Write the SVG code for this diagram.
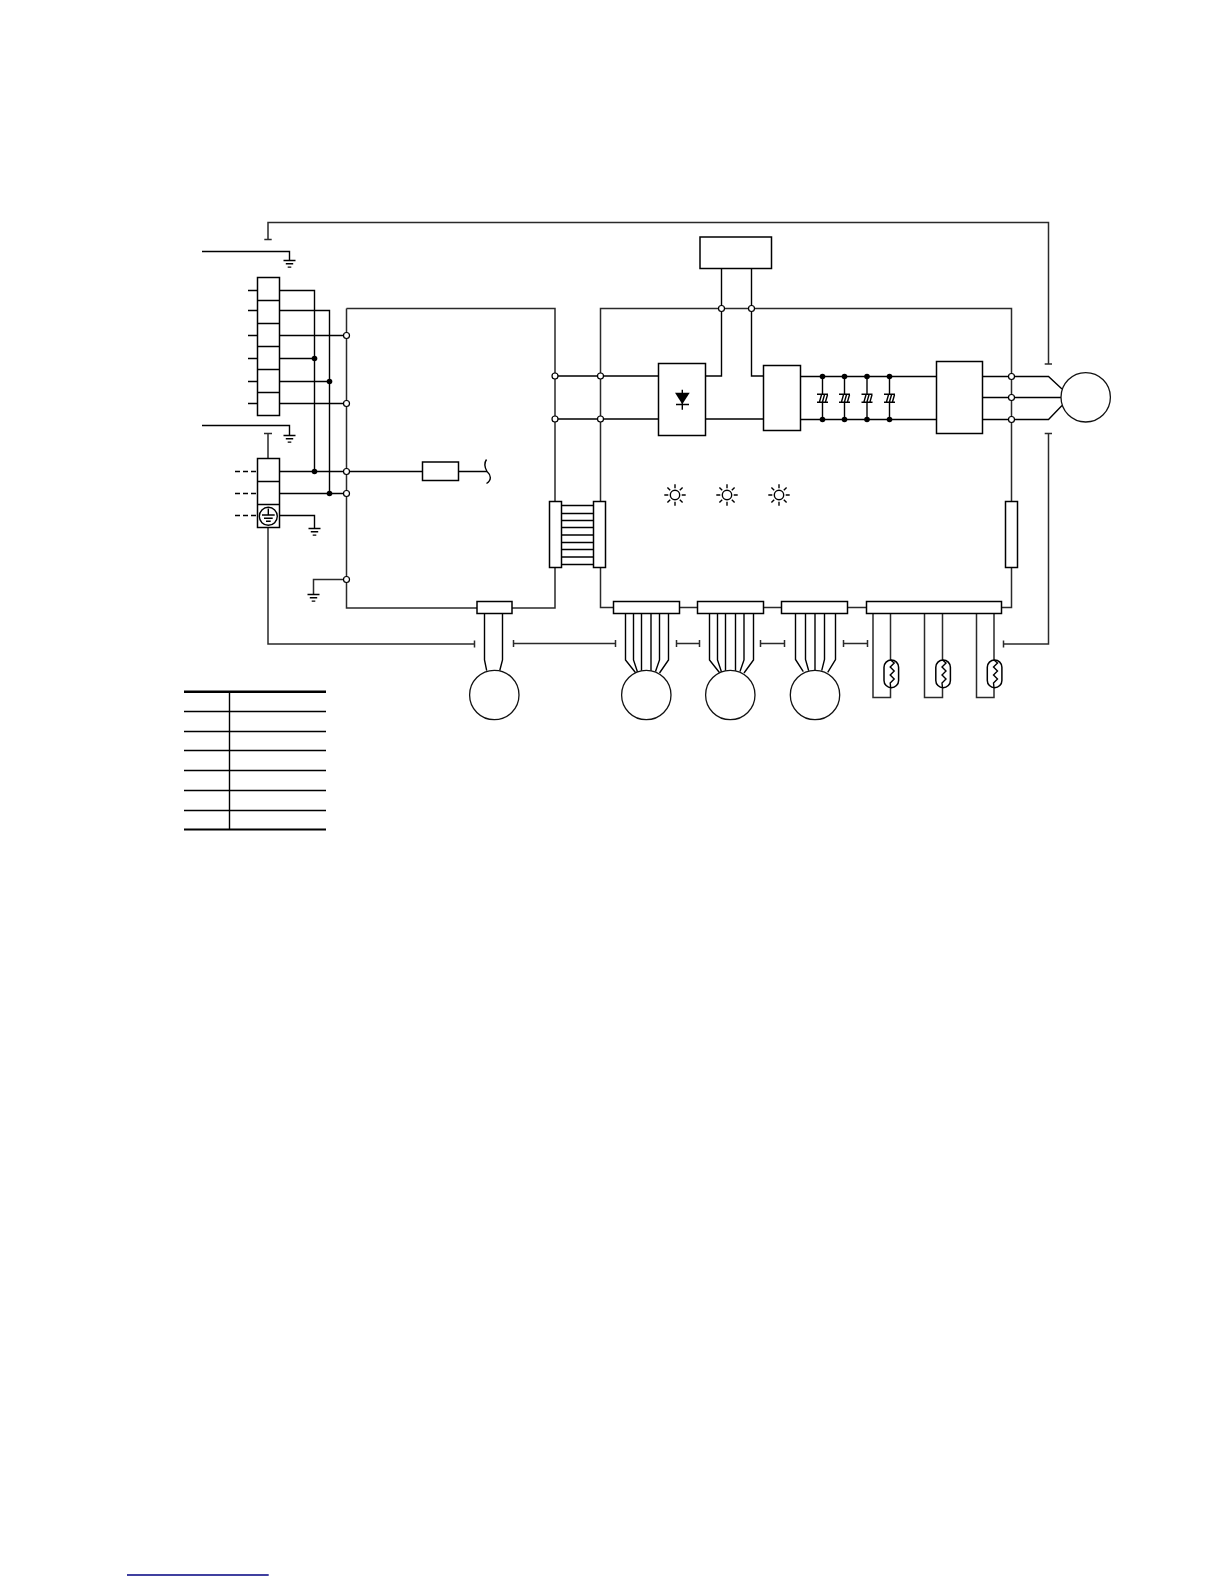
<svg xmlns="http://www.w3.org/2000/svg" width="1224" height="1584" viewBox="0 0 1224 1584">
<style>
.w{fill:none;stroke:#000;stroke-width:1.4}
.g{fill:none;stroke:#2a2a2a;stroke-width:1.5}
.b{fill:#fff;stroke:#000;stroke-width:1.5}
.o{fill:#fff;stroke:#000;stroke-width:1.2}
.d{fill:#000;stroke:none}
.m{fill:#fff;stroke:#111;stroke-width:1.3}
.dash{fill:none;stroke:#000;stroke-width:1.4;stroke-dasharray:5 3}
</style>
<defs>
<g id="gnd" class="w"><path d="M-6 0H6M-3.7 3.3H3.7M-1.8 6.6H1.8"/></g>
<g id="cap"><rect x="-5.5" y="-4" width="11" height="8" fill="#fff"/><path class="w" stroke-width="1.8" d="M-5.5 -4H5.5M-5.5 4H5.5M-3 3.5L-1 -3.5M0 3.5L2 -3.5M3 3.5L5 -3.5"/></g>
<g id="led" class="w"><circle r="4.7"/><path d="M-10.7 0H-6.7M6.7 0H10.7M0 -10.7V-6.7M0 6.7V10.7M-7.6 -7.6L-4.8 -4.8M7.6 -7.6L4.8 -4.8M-7.6 7.6L-4.8 4.8M7.6 7.6L4.8 4.8"/></g>
<g id="therm"><rect class="b" x="-6.7" y="0" width="14.6" height="27.7" rx="7.3"/><path class="w" d="M0 0L3.5 3L-.5 7L3.5 11L-.5 15L3.5 19L-.5 23L0 27.7"/></g>
</defs>
<g id="connectors">
<path class="g" d="M268 239.5V222.5H1048.5V364M264.3 239.5H271.7M1044.7 364H1052"/>
<path class="w" d="M202 251.5H289.5V260M202 425.5H289.5V435.5"/>
<path class="w" d="M248 290.5H257M248 310.5H257M248 335.5H257M248 358.5H257M248 381.5H257M248 403.5H257"/>
<path class="w" d="M279 290.5H314.5V471.5M279 310.5H329.5V493.5M279 335.5H346.5M279 358.5H314.5M279 381.5H329.5M279 403.5H346.5"/>
<path class="dash" d="M235 471.5H257M235 493.5H257M235 515.5H257"/>
<path class="w" d="M279 471.5H422.5M458.5 471.5H487M279 493.5H346.5M279 515.5H314.5V528.5"/>
<path class="w" d="M486.5 459.5C484 463 485 468 487 471.5C491 475 492 480 486.5 483.5"/>
<path class="g" d="M268 433.5V458.5M264 433.5H272M268 527V644H474.5M474.5 640.5V647.5"/>
<path class="g" d="M346.5 308.5H555V501.5M555 567V608H512M346.5 308.5V608H477M346.5 579.5H313.5V594.5"/>
<path class="g" d="M600.5 501.5V308.5H1011.5V501.5M1011.5 567V607.5H1001.5M600.5 567V607.5H613.5M679 607.5H697.5M763 607.5H781.5M847 607.5H866.5"/>
<path class="w" d="M721.5 268V376H705.5M751.5 268V376H763.5M555 376H658.5M555 419H658.5M705.5 419H763.5"/>
<path class="w" d="M800 376.5H936.5M800 419.5H936.5M822.5 376.5V419.5M844.5 376.5V419.5M867 376.5V419.5M889.5 376.5V419.5"/>
<path class="w" d="M982.5 376.5H1048.5L1062 389M982.5 397.5H1061M982.5 419.5H1048.5L1062 405.5"/>
<path class="g" d="M1048.5 433.5V644H1003.5M1044.7 433.5H1052M1003.5 640.5V647.5"/>
<path class="w" d="M561.5 505.5H593.5M561.5 513.5H593.5M561.5 520.5H593.5M561.5 527.5H593.5M561.5 535H593.5M561.5 542.5H593.5M561.5 549.5H593.5M561.5 557H593.5M561.5 564.5H593.5"/>
<path class="g" d="M513.5 643.5H615.5M513.5 640V647M615.5 640V647M676.5 643.5H699.5M676.5 640V647M699.5 640V647M760.5 643.5H784.5M760.5 640V647M784.5 640V647M843.5 643.5H867.5M843.5 640V647M867.5 640V647"/>
<path class="w" d="M484.5 613V660L486.7 670.7M502.5 613V660L499.7 670.7"/>
<path class="w" d="M625.5 613V660L636 673.3M633.5 613V660L637.5 672M641.5 613V671M651 613V671M659.5 613V660L655.5 671.5M668.5 613V660L659.5 673"/>
<path class="w" d="M709.5 613V660L720 673.3M717.5 613V660L721.5 672M725.5 613V671M735.5 613V671M744 613V660L740 671.5M753.5 613V660L744 673"/>
<path class="w" d="M795.5 613V659.5L803.3 671.7M805.5 613V659.5L808.7 670.7M815 613V670M824.5 613V659.5L821.7 670.7M835.5 613V659.5L827.7 672.3"/>
<path class="g" d="M873 613V697.5H890.5V613M924.5 613V697.5H942.5V613M976.5 613V697.5H994V613"/>
</g>
<g id="ground-1"><use href="#gnd" x="289.5" y="260.5"/></g>
<g id="ground-2"><use href="#gnd" x="289.5" y="435.5"/></g>
<g id="ground-3"><use href="#gnd" x="314.5" y="528.5"/></g>
<g id="ground-4"><use href="#gnd" x="313.5" y="594.5"/></g>
<g id="terminal-block-1">
<rect class="b" x="257.5" y="277.5" width="22" height="138"/>
<path class="w" d="M257.5 300.5H279.5M257.5 323.5H279.5M257.5 346.5H279.5M257.5 369.5H279.5M257.5 392.5H279.5"/>
</g>
<g id="terminal-block-2">
<rect class="b" x="257.5" y="458.5" width="22" height="69"/>
<path class="w" d="M257.5 481.5H279.5M257.5 504.5H279.5"/>
<circle class="w" cx="268.3" cy="516.3" r="9"/>
<path class="w" d="M268.3 508.5V515M262 515H274.7M264 518.3H272.7M266 521.3H270.7"/>
</g>
<g id="fuse"><rect class="b" x="422.5" y="462" width="36" height="18.5"/></g>
<g id="top-box"><rect class="b" x="700" y="237" width="71.5" height="31.5"/></g>
<g id="rectifier">
<rect class="b" x="658.5" y="363.5" width="47" height="72"/>
<path class="d" d="M675 392.7H689.7L682.3 404.3Z"/>
<path class="w" d="M682.3 389.7V409.7M676 404.5H689"/>
</g>
<g id="filter-box"><rect class="b" x="763.5" y="365.5" width="37" height="65"/></g>
<g id="inverter-box"><rect class="b" x="936.5" y="361.5" width="46" height="72"/></g>
<g id="capacitors">
<use href="#cap" x="822.5" y="398.3"/><use href="#cap" x="844.5" y="398.3"/><use href="#cap" x="867" y="398.3"/><use href="#cap" x="889.5" y="398.3"/>
</g>
<g id="leds"><use href="#led" x="675" y="495"/><use href="#led" x="727" y="495"/><use href="#led" x="779" y="495"/></g>
<g id="connector-left"><rect class="b" x="549.5" y="501.5" width="12" height="66"/></g>
<g id="connector-mid"><rect class="b" x="593.5" y="501.5" width="12" height="66"/></g>
<g id="connector-right"><rect class="b" x="1005.5" y="501.5" width="12" height="66"/></g>
<g id="header-1"><rect class="b" x="477" y="601.5" width="35" height="12"/></g>
<g id="header-2"><rect class="b" x="613.5" y="601.5" width="66" height="12"/></g>
<g id="header-3"><rect class="b" x="697.5" y="601.5" width="66" height="12"/></g>
<g id="header-4"><rect class="b" x="781.5" y="601.5" width="66" height="12"/></g>
<g id="header-5"><rect class="b" x="866.5" y="601.5" width="135" height="12"/></g>
<g id="motor-main"><circle class="m" cx="1085.7" cy="397.3" r="24.7"/></g>
<g id="motor-1"><circle class="m" cx="494.3" cy="695" r="24.7"/></g>
<g id="motor-2"><circle class="m" cx="646.3" cy="695" r="24.7"/></g>
<g id="motor-3"><circle class="m" cx="730.3" cy="695" r="24.7"/></g>
<g id="motor-4"><circle class="m" cx="815" cy="695" r="24.7"/></g>
<g id="thermistors"><use href="#therm" x="890.7" y="660"/><use href="#therm" x="942.5" y="660"/><use href="#therm" x="994" y="660"/></g>
<g id="junctions">
<g class="d"><circle cx="314.5" cy="358.5" r="2.8"/><circle cx="329.5" cy="381.5" r="2.8"/><circle cx="314.5" cy="471.5" r="2.8"/><circle cx="329.5" cy="493.5" r="2.8"/>
<circle cx="822.5" cy="376.5" r="2.8"/><circle cx="844.5" cy="376.5" r="2.8"/><circle cx="867" cy="376.5" r="2.8"/><circle cx="889.5" cy="376.5" r="2.8"/>
<circle cx="822.5" cy="419.5" r="2.8"/><circle cx="844.5" cy="419.5" r="2.8"/><circle cx="867" cy="419.5" r="2.8"/><circle cx="889.5" cy="419.5" r="2.8"/></g>
<g class="o"><circle cx="346.5" cy="335.5" r="3"/><circle cx="346.5" cy="403.5" r="3"/><circle cx="346.5" cy="471.5" r="3"/><circle cx="346.5" cy="493.5" r="3"/><circle cx="346.5" cy="579.5" r="3"/>
<circle cx="555" cy="376" r="3"/><circle cx="600.5" cy="376" r="3"/><circle cx="555" cy="419" r="3"/><circle cx="600.5" cy="419" r="3"/>
<circle cx="721.5" cy="308.5" r="3"/><circle cx="751.5" cy="308.5" r="3"/>
<circle cx="1011.5" cy="376.5" r="3"/><circle cx="1011.5" cy="397.5" r="3"/><circle cx="1011.5" cy="419.5" r="3"/></g>
</g>
<g id="legend-table">
<path fill="none" stroke="#000" stroke-width="2.4" d="M184 691.7H326"/>
<path class="w" d="M184 711.5H326M184 731.5H326M184 750.5H326M184 770.5H326M184 790.5H326M184 810.5H326M229.5 691.7V829.5"/>
<path fill="none" stroke="#000" stroke-width="2" d="M184 829.5H326"/>
</g>
<path id="footer-rule" fill="none" stroke="#000080" stroke-width="1.5" d="M127 1575H268.7"/>
</svg>
